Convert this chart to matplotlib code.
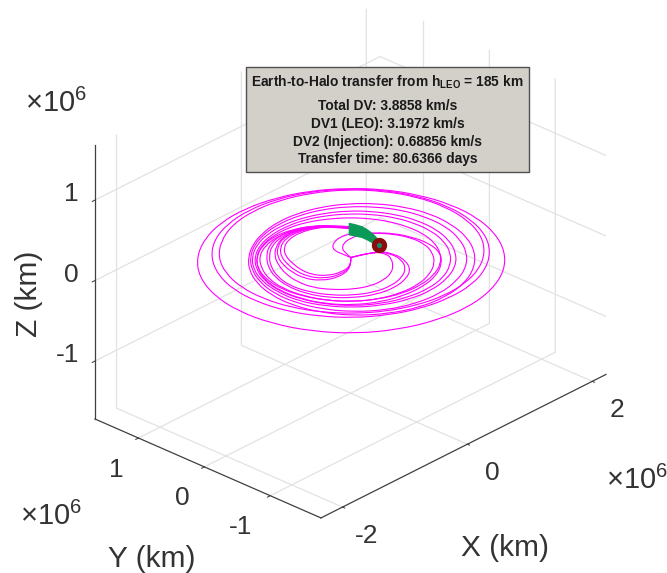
import numpy as np
import matplotlib
matplotlib.use('Agg')
import matplotlib.pyplot as plt
from matplotlib.patches import Rectangle, PathPatch
from matplotlib.path import Path
from mpl_toolkits.mplot3d import proj3d
from mpl_toolkits.mplot3d.art3d import Poly3DCollection

W, H = 667, 573

# radii in 1e6 km, one value every 15 deg of sweep, clockwise seen from +z
outer_rings = [
    [1.56,1.57,1.58,1.60,1.63,1.66,1.70,1.74,1.77,1.80,1.82,1.84,1.85,1.84,1.82,1.80,1.77,1.74,1.70,1.66,1.63,1.60,1.58,1.57,1.56],
    [1.55,1.55,1.55,1.55,1.55,1.55,1.54,1.53,1.52,1.50,1.49,1.48,1.48,1.48,1.49,1.50,1.52,1.53,1.54,1.55,1.55,1.55,1.55,1.55,1.55],
    [1.53,1.53,1.53,1.52,1.51,1.50,1.48,1.46,1.44,1.42,1.40,1.39,1.38,1.38,1.39,1.40,1.42,1.44,1.46,1.47,1.49,1.50,1.51,1.52,1.53],
    [1.20,1.23,1.26,1.29,1.31,1.34,1.37,1.40,1.43,1.45,1.46,1.45,1.43,1.39,1.34,1.28,1.22,1.17,1.13,1.11,1.105,1.12,1.14,1.17,1.20],
    [1.13,1.15,1.18,1.20,1.23,1.25,1.28,1.31,1.33,1.35,1.36,1.36,1.34,1.31,1.27,1.23,1.18,1.14,1.11,1.09,1.08,1.08,1.09,1.11,1.13],
    [1.03,1.04,1.06,1.08,1.105,1.13,1.16,1.19,1.21,1.23,1.24,1.24,1.24,1.23,1.22,1.18,1.15,1.12,1.09,1.065,1.045,1.03,1.02,1.02,1.03],
    [0.96,0.97,0.99,1.01,1.04,1.07,1.10,1.13,1.16,1.18,1.19,1.20,1.20,1.19,1.17,1.15,1.12,1.09,1.06,1.03,1.00,0.98,0.97,0.96,0.96],
    [0.87,0.87,0.88,0.90,0.93,0.96,0.99,1.02,1.04,1.06,1.08,1.09,1.10,1.10,1.10,1.10,1.09,1.07,1.04,1.01,0.97,0.94,0.91,0.88,0.87],
]
ring_start = 0

upper_lobe_a = [0,0.10,0.20,0.28,0.35,0.43,0.49,0.52,0.57,0.66,0.76,0.85,0.905,0.95,0.99,1.03,1.06,1.09,1.10,1.10,1.09,1.08,1.06,1.03,1.01,0.97,0.92,0.86,0.78,0.70,0.63]
upper_start_a = -90
upper_lobe_b = [0,0.10,0.18,0.28,0.38,0.49,0.58,0.68,0.78,0.90,0.99,1.03,1.07,1.10,1.13,1.16,1.18,1.18,1.16,1.14,1.11,1.07,1.04,1.00,0.95,0.88,0.80,0.72,0.66]
upper_start_b = -60

right_lobes = [
    [0,0.25,0.40,0.46,0.53,0.62,0.70,0.77,0.81,0.84,0.87,0.86,0.84,0.83,0.84,0.85,0.86,0.84,0.76,0.68,0.61],
    [0,0.28,0.45,0.58,0.69,0.78,0.86,0.92,0.95,0.97,0.98,0.98,0.95,0.92,0.90,0.90,0.88,0.85,0.78,0.70,0.62],
    [0,0.30,0.48,0.62,0.75,0.84,0.92,0.98,1.01,1.03,1.03,1.01,0.98,0.95,0.93,0.93,0.91,0.87,0.80,0.71,0.63],
]
right_start = 60

lower_lobes = [
    [0,0.24,0.42,0.56,0.63,0.65,0.67,0.72,0.76,0.78,0.77,0.74,0.69,0.63],
    [0,0.27,0.48,0.63,0.69,0.71,0.73,0.77,0.80,0.82,0.80,0.75,0.70,0.635],
    [0,0.30,0.54,0.69,0.75,0.76,0.78,0.81,0.83,0.85,0.82,0.76,0.70,0.64],
]
lower_start = 165
cusp_z = -0.035

# halo orbit arc, 1e6 km
halo_x = [0.43,0.455,0.474,0.465,0.447,0.43,0.407]
halo_y = [0.436,0.36,0.282,0.19,0.104,0.04,-0.025]
halo_z_top = [0.07,0.068,0.065,0.06,0.055,0.045,0.035]
halo_z_bot = [-0.07,-0.068,-0.065,-0.06,-0.055,-0.045,-0.035]
earth_xyz = [0.38, -0.066, 0.0]

xticks = [-2, 0, 2]
yticks = [-1, 0, 1]
zticks = [-1, 0, 1]
xlim = (-2.345, 2.22)
ylim = (-1.77, 1.66)
zlim = (-1.72, 1.68)

info_title = r'Earth-to-Halo transfer from $\mathbf{h_{LEO}}$ = 185 km'
info_lines = ['Total DV: 3.8858 km/s', 'DV1 (LEO): 3.1972 km/s',
              'DV2 (Injection): 0.68856 km/s', 'Transfer time: 80.6366 days']
info_y = [82, 106, 124, 142, 159]

plt.rcParams['font.family'] = ['Liberation Sans', 'DejaVu Sans']
plt.rcParams['mathtext.fontset'] = 'custom'
plt.rcParams['mathtext.rm'] = 'Liberation Sans'
plt.rcParams['mathtext.bf'] = 'Liberation Sans:bold'
plt.rcParams['axes.unicode_minus'] = False
plt.rcParams['grid.color'] = '#e2e2e2'
plt.rcParams['grid.linewidth'] = 0.9


def fx(x):
    return x / W


def fy(y):
    return 1 - y / H


def draw_orbit(ax, start_deg, radii):
    # the values are knots of a quadratic curve, projected by the 3d axes
    r = np.array(radii)
    phi = np.radians(start_deg + 15 * np.arange(len(r)))
    theta = np.pi / 4 - phi
    z = np.zeros(len(r))
    if r[0] == 0:
        z[0] = cusp_z
    px, py, _ = proj3d.proj_transform(r * np.cos(theta), r * np.sin(theta), z, ax.get_proj())
    pts = np.column_stack([px, py])
    closed = r[0] == r[-1]
    if closed:
        pts = np.vstack([pts, pts[1]])
        first = (pts[0] + pts[1]) / 2
    else:
        first = pts[0]
    verts = [first]
    codes = [Path.MOVETO]
    for i in range(1, len(pts) - 1):
        last_knot = not closed and i == len(pts) - 2
        end = pts[i + 1] if last_knot else (pts[i] + pts[i + 1]) / 2
        verts += [pts[i], end]
        codes += [Path.CURVE3, Path.CURVE3]
    patch = PathPatch(Path(verts, codes), fill=False, edgecolor='#ff00ff', lw=0.8,
                      transform=ax.transData, zorder=1, clip_on=False)
    patch.do_3d_projection = lambda: 1
    ax.add_artist(patch)


def to_pixels(ax, x, y, z):
    px, py, _ = proj3d.proj_transform(x, y, z, ax.get_proj())
    return ax.transData.transform((px, py))


fig = plt.figure(figsize=(W / 100, H / 100), dpi=100)
ax = fig.add_axes([0, 0, 1, 1], projection='3d')
ax.computed_zorder = False
ax.set_proj_type('ortho')
ax.view_init(elev=28, azim=-137)
ax.set_box_aspect((418, 309, 310))
ax.set_xlim(*xlim)
ax.set_ylim(*ylim)
ax.set_zlim(*zlim)

for radii in outer_rings:
    draw_orbit(ax, ring_start, radii)
draw_orbit(ax, upper_start_a, upper_lobe_a)
draw_orbit(ax, upper_start_b, upper_lobe_b)
for radii in right_lobes:
    draw_orbit(ax, right_start, radii)
for radii in lower_lobes:
    draw_orbit(ax, lower_start, radii)

verts = list(zip(halo_x, halo_y, halo_z_top)) + list(zip(halo_x, halo_y, halo_z_bot))[::-1]
ax.add_collection3d(Poly3DCollection([verts], facecolor='#0a9a58', edgecolor='#0a9a58', zorder=2))
ax.scatter(*earth_xyz, s=100, color='#8a0c0c', depthshade=False, zorder=3)
ax.scatter(*earth_xyz, s=7, color='#1b8a6b', depthshade=False, zorder=4)

for axis in (ax.xaxis, ax.yaxis, ax.zaxis):
    axis.pane.set_facecolor('none')
    axis.pane.set_edgecolor('none')
    axis.line.set_color('#404040')
    axis.line.set_linewidth(0.9)
    axis._axinfo['tick']['inward_factor'] = 0.12
    axis._axinfo['tick']['outward_factor'] = 0.0
    axis._axinfo['tick']['linewidth'] = {True: 0.7, False: 0.5}

ax.set_xticks(xticks)
ax.set_yticks(yticks)
ax.set_zticks(zticks)
ax.tick_params(labelsize=19, colors='#333333')
ax.tick_params(axis='x', pad=16)
ax.tick_params(axis='y', pad=15)
ax.tick_params(axis='z', pad=-1)
for axis in (ax.xaxis, ax.yaxis):
    for tick in axis.get_major_ticks():
        tick.label1.set_va('bottom')
for tick in ax.yaxis.get_major_ticks()[1:]:
    tick.label1.set_ha('left')
for tick in ax.zaxis.get_major_ticks():
    tick.label1.set_ha('right')
    tick.label1.set_va('baseline')

# move the axes so the box corners land where they do in the picture
fig.canvas.draw()
p_left = to_pixels(ax, xlim[0], ylim[1], zlim[0])
p_right = to_pixels(ax, xlim[1], ylim[0], zlim[0])
scale = 511 / (p_right[0] - p_left[0])
box = ax.get_position().frozen()
side = box.width * W * scale
u = (p_left[0] - box.x0 * W) / (box.width * W)
v = (p_left[1] - box.y0 * H) / (box.height * H)
l = 95 - u * side
b = (H - 419) - v * side
ax.set_position([l / W, b / H, side / W, side / H])

fig.text(fx(505), fy(548), 'X (km)', fontsize=21.5, color='#333333', ha='center', va='center')
fig.text(fx(152), fy(559), 'Y (km)', fontsize=21.5, color='#333333', ha='center', va='center')
fig.text(fx(29), fy(294), 'Z (km)', fontsize=21.5, color='#333333', ha='center', va='center', rotation=90)

fig.text(fx(25), fy(112), r'$\times$10$^{6}$', fontsize=21, color='#333333', ha='left', va='baseline')
fig.text(fx(20), fy(525), r'$\times$10$^{6}$', fontsize=21, color='#333333', ha='left', va='baseline')
fig.text(fx(606), fy(489), r'$\times$10$^{6}$', fontsize=21, color='#333333', ha='left', va='baseline')

fig.add_artist(Rectangle((fx(246), fy(172)), 283 / W, 105 / H, transform=fig.transFigure,
                         facecolor='#d3cfc9', edgecolor='#505050', lw=1))
fig.text(fx(387.5), fy(info_y[0]), info_title, fontsize=9.9, fontweight='bold',
         color='#1a1a1a', ha='center', va='center')
for line, yy in zip(info_lines, info_y[1:]):
    fig.text(fx(387.5), fy(yy), line, fontsize=9.9, fontweight='bold',
             color='#1a1a1a', ha='center', va='center')

plt.savefig('out.png', dpi=100)
